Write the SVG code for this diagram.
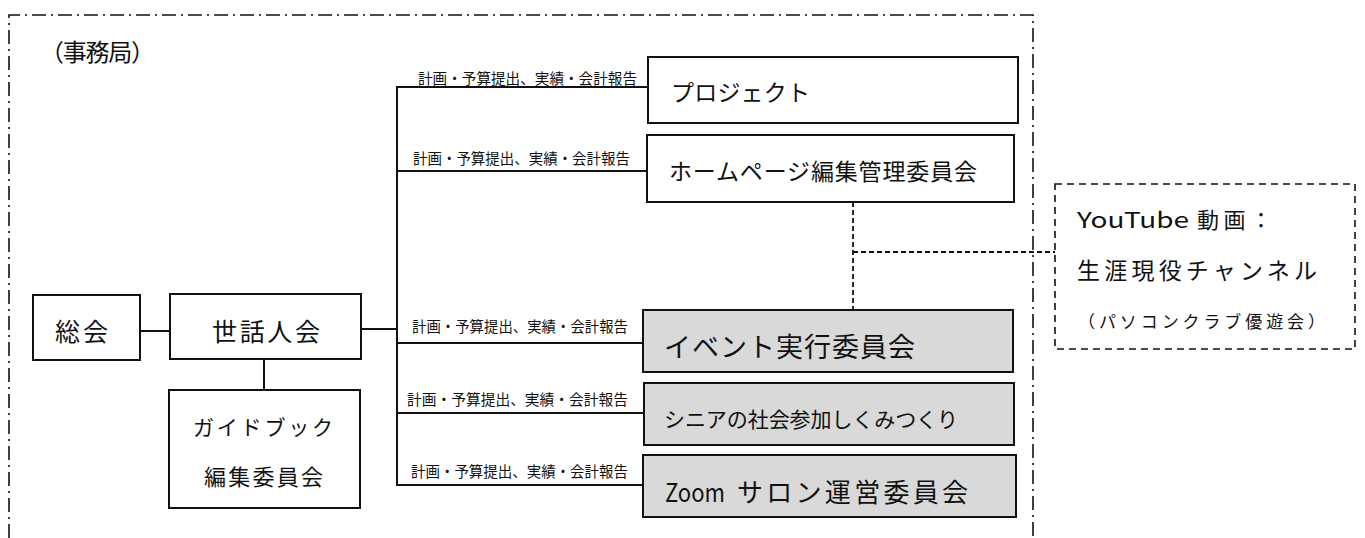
<svg xmlns="http://www.w3.org/2000/svg" width="1365" height="538" viewBox="0 0 1365 538">
<style>
text{font-family:"Noto Sans CJK JP","Noto Sans",sans-serif;fill:#111;}
.box{fill:#fff;stroke:#111;stroke-width:2;}
.gray{fill:#d9d9d9;stroke:#111;stroke-width:2;}
.ln{stroke:#111;stroke-width:2;fill:none;}
.dash{stroke:#111;stroke-width:1.8;fill:none;stroke-dasharray:5 3;}
.lbl{font-size:15px;}
</style>
<rect width="1365" height="538" fill="#fff"/>
<g id="office-frame">
<path d="M9,538 V15 H1033 V538" fill="none" stroke="#111" stroke-width="1.6" stroke-dasharray="14 5 2 5"/>
<text x="40" y="61" font-size="24" textLength="115" lengthAdjust="spacing">（事務局）</text>
</g>
<g id="connectors">
<line class="ln" x1="140" y1="331" x2="170" y2="331"/>
<line class="ln" x1="264" y1="359" x2="264" y2="390"/>
<line class="ln" x1="361" y1="329" x2="397" y2="329"/>
<line class="ln" x1="397" y1="86" x2="397" y2="486"/>
<line class="ln" x1="396" y1="87" x2="648" y2="87"/>
<line class="ln" x1="396" y1="171" x2="647" y2="171"/>
<line class="ln" x1="396" y1="343" x2="643" y2="343"/>
<line class="ln" x1="396" y1="413" x2="644" y2="413"/>
<line class="ln" x1="396" y1="485" x2="643" y2="485"/>
<line class="dash" x1="853" y1="202" x2="853" y2="310"/>
<line class="dash" x1="853" y1="252" x2="1055" y2="252"/>
<text class="lbl" x="418" y="84" textLength="219" lengthAdjust="spacingAndGlyphs">計画・予算提出、実績・会計報告</text>
<text class="lbl" x="413" y="164" textLength="217" lengthAdjust="spacingAndGlyphs">計画・予算提出、実績・会計報告</text>
<text class="lbl" x="412" y="332" textLength="216" lengthAdjust="spacingAndGlyphs">計画・予算提出、実績・会計報告</text>
<text class="lbl" x="407" y="405" textLength="221" lengthAdjust="spacingAndGlyphs">計画・予算提出、実績・会計報告</text>
<text class="lbl" x="411" y="477" textLength="217" lengthAdjust="spacingAndGlyphs">計画・予算提出、実績・会計報告</text>
</g>
<g id="soukai">
<rect class="box" x="33" y="295" width="107" height="65"/>
<text x="55" y="341" font-size="25" textLength="53" lengthAdjust="spacing">総会</text>
</g>
<g id="sewaninkai">
<rect class="box" x="170" y="294" width="191" height="65"/>
<text x="212" y="341" font-size="25" textLength="108" lengthAdjust="spacing">世話人会</text>
</g>
<g id="guidebook">
<rect class="box" x="169" y="390" width="191" height="118"/>
<text x="193" y="435" font-size="21" textLength="140" lengthAdjust="spacing">ガイドブック</text>
<text x="204" y="485" font-size="22" textLength="119" lengthAdjust="spacing">編集委員会</text>
</g>
<g id="project">
<rect class="box" x="648" y="57" width="370" height="66"/>
<text x="671" y="101" font-size="23" textLength="139" lengthAdjust="spacing">プロジェクト</text>
</g>
<g id="homepage">
<rect class="box" x="647" y="135" width="367" height="67"/>
<text x="669" y="180" font-size="23" textLength="308" lengthAdjust="spacing">ホームページ編集管理委員会</text>
</g>
<g id="event">
<rect class="gray" x="643" y="310" width="370" height="62"/>
<text x="664" y="357" font-size="27" textLength="251" lengthAdjust="spacing">イベント実行委員会</text>
</g>
<g id="senior">
<rect class="gray" x="644" y="383" width="370" height="62"/>
<text x="664" y="427" font-size="21" textLength="294" lengthAdjust="spacing">シニアの社会参加しくみつくり</text>
</g>
<g id="zoom">
<rect class="gray" x="643" y="455" width="373" height="62"/>
<text x="665" y="502" font-size="26" textLength="60" lengthAdjust="spacingAndGlyphs">Zoom</text>
<text x="737" y="502" font-size="26" textLength="231" lengthAdjust="spacing">サロン運営委員会</text>
</g>
<g id="youtube">
<rect x="1055" y="184" width="300" height="165" fill="#fff" stroke="#111" stroke-width="1.6" stroke-dasharray="7 5"/>
<text x="1077" y="228" font-size="22" textLength="112" lengthAdjust="spacingAndGlyphs">YouTube</text>
<text x="1197" y="228" font-size="22" textLength="75" lengthAdjust="spacing">動画：</text>
<text x="1077" y="279" font-size="23" textLength="240" lengthAdjust="spacing">生涯現役チャンネル</text>
<text x="1078" y="328" font-size="17" textLength="247" lengthAdjust="spacing">（パソコンクラブ優遊会）</text>
</g>
</svg>
